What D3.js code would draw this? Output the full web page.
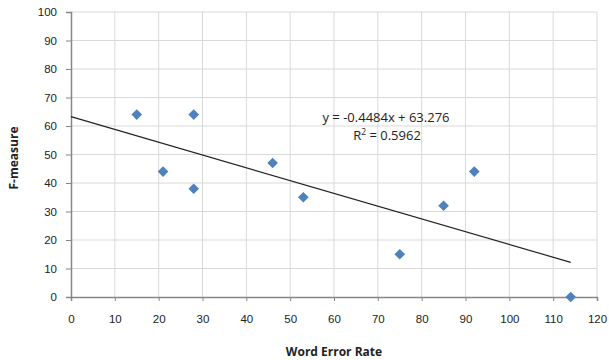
<!DOCTYPE html>
<html>
<head>
<meta charset="utf-8">
<script src="https://cdn.jsdelivr.net/npm/d3@7"></script>
<style>
  body { margin: 0; background: #fff; }
  svg { font-family: "Open Sans", "Liberation Sans", sans-serif; }
</style>
</head>
<body>
<div id="chart"></div>
<script>
// data
const werValues = [15, 21, 28, 28, 46, 53, 75, 85, 92, 114];
const fValues = [64, 44, 64, 38, 47, 35, 15, 32, 44, 0];
const xTicks = [0, 10, 20, 30, 40, 50, 60, 70, 80, 90, 100, 110, 120];
const yTicks = [0, 10, 20, 30, 40, 50, 60, 70, 80, 90, 100];
const slope = -0.4484;
const intercept = 63.276;
const eqLabel = 'y = -0.4484x + 63.276';
const r2Value = '0.5962';

const width = 609, height = 360;
const margin = { left: 71, right: 12, top: 12, bottom: 63 };

const svg = d3.select('#chart').append('svg')
    .attr('width', width)
    .attr('height', height);

const x = d3.scaleLinear().domain([0, 120]).range([margin.left, width - margin.right]);
const y = d3.scaleLinear().domain([0, 100]).range([height - margin.bottom, margin.top]);

// gridlines
svg.append('g').selectAll('line.h')
    .data(yTicks.filter(d => d > 0))
    .join('line')
    .attr('x1', x(0)).attr('x2', x(120))
    .attr('y1', d => y(d)).attr('y2', d => y(d))
    .attr('stroke', '#d9d9d9').attr('stroke-width', 1);

svg.append('g').selectAll('line.v')
    .data(xTicks.filter(d => d > 0))
    .join('line')
    .attr('x1', d => x(d)).attr('x2', d => x(d))
    .attr('y1', y(0)).attr('y2', y(100))
    .attr('stroke', '#d9d9d9').attr('stroke-width', 1);

// axes
const xAxis = svg.append('g')
    .attr('transform', `translate(0,${y(0)})`)
    .call(d3.axisBottom(x).tickValues(xTicks).tickSize(4).tickPadding(14));
const yAxis = svg.append('g')
    .attr('transform', `translate(${x(0)},0)`)
    .call(d3.axisLeft(y).tickValues(yTicks).tickSize(5).tickPadding(9));

[xAxis, yAxis].forEach(a => {
    a.select('.domain').attr('stroke', '#868686').attr('stroke-width', 1.5);
    a.selectAll('.tick line').attr('stroke', '#868686');
    a.selectAll('.tick text')
        .attr('fill', '#222')
        .style('font-size', '11.5px');
});

// trendline over data range
const xMax = d3.max(werValues);
svg.append('line')
    .attr('x1', x(0)).attr('y1', y(intercept))
    .attr('x2', x(xMax)).attr('y2', y(slope * xMax + intercept))
    .attr('stroke', '#222').attr('stroke-width', 1.2);

// points
const points = werValues.map((v, i) => ({ x: v, y: fValues[i] }));
svg.append('g').selectAll('path')
    .data(points)
    .join('path')
    .attr('d', d3.symbol().type(d3.symbolDiamond2).size(72))
    .attr('transform', d => `translate(${x(d.x)},${y(d.y)})`)
    .attr('fill', '#4f81bd');

// equation label
const eq = svg.append('g').style('font-size', '13px').attr('fill', '#222');
eq.append('text')
    .attr('x', 386).attr('y', 122)
    .attr('text-anchor', 'middle')
    .text(eqLabel);
const r2 = eq.append('text')
    .attr('x', 387).attr('y', 140)
    .attr('text-anchor', 'middle');
r2.append('tspan').text('R');
r2.append('tspan').attr('dy', -5).style('font-size', '8.5px').text('2');
r2.append('tspan').attr('dy', 5).text(' = ' + r2Value);

// axis titles
svg.append('text')
    .attr('x', (x(0) + x(120)) / 2)
    .attr('y', 356)
    .attr('text-anchor', 'middle')
    .style('font-size', '12px')
    .style('font-weight', 'bold')
    .attr('fill', '#222')
    .text('Word Error Rate');

svg.append('text')
    .attr('transform', `translate(18,158) rotate(-90)`)
    .attr('text-anchor', 'middle')
    .style('font-size', '12px')
    .style('font-weight', 'bold')
    .attr('fill', '#222')
    .text('F-measure');
</script>
</body>
</html>
